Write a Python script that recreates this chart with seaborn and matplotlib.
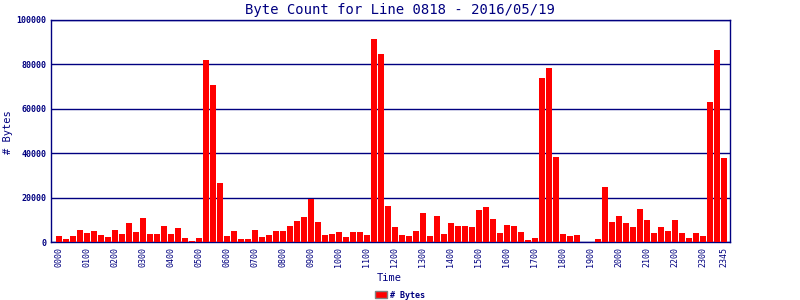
import matplotlib
matplotlib.use("Agg")
import matplotlib.pyplot as plt
from matplotlib.patches import Patch
import seaborn as sns
import pandas as pd

# ---- data ----
times = [f"{h:02d}{m:02d}" for h in range(24) for m in (0, 15, 30, 45)]
byte_counts = [
    2700, 1300, 2700, 5300, 4000, 4900, 3100, 2200,
    5300, 3600, 8400, 4400, 10700, 3600, 3600, 7100,
    3600, 6200, 1800, 400, 1800, 81900, 70800, 26700,
    2700, 4900, 1300, 1300, 5300, 2200, 3100, 4900,
    4900, 7100, 9300, 11100, 19400, 8900, 3100, 3600,
    4400, 2200, 4400, 4400, 3100, 91400, 84600, 16000,
    6700, 3100, 2700, 4900, 12900, 2700, 11600, 3600,
    8400, 7100, 7100, 6700, 14200, 15600, 10200, 4000,
    7600, 7100, 4400, 900, 1800, 74000, 78500, 38200,
    3600, 2700, 3100, 0, 0, 1300, 24900, 8900,
    11600, 8400, 6700, 14700, 9800, 4000, 6700, 4900,
    9800, 4000, 1800, 4000, 2700, 63200, 86500, 37800,
]
tick_labels = [f"{h:02d}00" for h in range(24)] + ["2345"]
y_ticks = [0, 20000, 40000, 60000, 80000, 100000]
title = "Byte Count for Line 0818 - 2016/05/19"
series_name = "# Bytes"

NAVY = "#000080"
RED = "#ff0000"
FONT = "DejaVu Sans Mono"

df = pd.DataFrame({"time": times, "bytes": byte_counts})

sns.set_style("white")
plt.rcParams["font.family"] = [FONT]

fig = plt.figure(figsize=(8, 3), dpi=100)
ax = fig.add_axes([51 / 800, 1 - 242 / 300, 679 / 800, 222 / 300])

sns.barplot(data=df, x="time", y="bytes", order=times, color=RED,
            saturation=1, width=6 / 7, ax=ax, zorder=3,
            linewidth=0, edgecolor="none")

ax.set_xlim(-8 / 7, 95 + 6 / 7)
ax.set_ylim(0, 100000)

tick_pos = [times.index(t) for t in tick_labels]
ax.set_xticks(tick_pos)
ax.set_xticklabels(tick_labels, rotation=90, fontsize=6, color=NAVY)
ax.set_yticks(y_ticks)
ax.set_yticklabels([str(v) for v in y_ticks], fontsize=6, color=NAVY,
                   fontweight="bold")
ax.tick_params(axis="both", length=0, pad=3.5)

ax.grid(axis="y", color=NAVY, linewidth=1.0)
ax.grid(axis="x", visible=False)
ax.set_axisbelow(True)
for sp in ax.spines.values():
    sp.set_visible(True)
    sp.set_color(NAVY)
    sp.set_linewidth(1.0)

ax.set_xlabel("")
ax.set_ylabel("")
fig.text(0.5, 1 - 10 / 300, title, ha="center", va="center",
         fontsize=10, color=NAVY, family=FONT)
fig.text(389 / 800, 1 - 278 / 300, "Time", ha="center", va="center",
         fontsize=7.5, color=NAVY, family=FONT)
fig.text(8 / 800, 1 - 132 / 300, series_name, ha="center", va="center",
         rotation=90, fontsize=7.5, color=NAVY, family=FONT)

handle = Patch(facecolor=RED, edgecolor="#808080", linewidth=1)
leg = fig.legend([handle], [series_name], loc="center",
                 bbox_to_anchor=(400 / 800, 1 - 295 / 300), frameon=False,
                 fontsize=6, handlelength=1.4, handleheight=0.9,
                 handletextpad=0.4, borderpad=0)
for t in leg.get_texts():
    t.set_color(NAVY)
    t.set_fontweight("bold")

fig.savefig("out.png", dpi=100)
